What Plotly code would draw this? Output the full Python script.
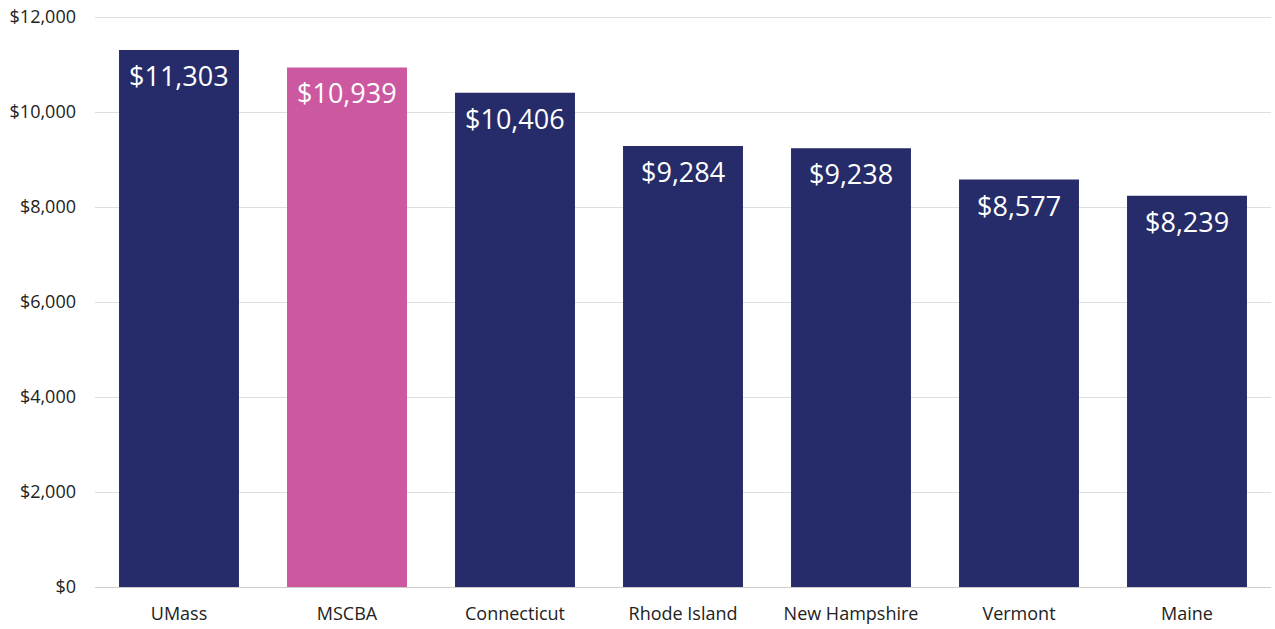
import plotly.graph_objects as go

categories = ["UMass", "MSCBA", "Connecticut", "Rhode Island", "New Hampshire", "Vermont", "Maine"]
values = [11303, 10939, 10406, 9284, 9238, 8577, 8239]
colors = ["#252C69", "#CC589F", "#252C69", "#252C69", "#252C69", "#252C69", "#252C69"]
tick_vals = [0, 2000, 4000, 6000, 8000, 10000, 12000]
tick_text = ["$0", "$2,000", "$4,000", "$6,000", "$8,000", "$10,000", "$12,000"]
labels = [f"${v:,}" for v in values]

fig = go.Figure(go.Bar(
    x=categories, y=values, marker=dict(color=colors, line=dict(width=0)),
    width=0.714, hoverinfo="skip",
))

for c, v, t in zip(categories, values, labels):
    fig.add_annotation(x=c, y=v, text=t, showarrow=False, yanchor="top", yshift=-5,
                       font=dict(family="Open Sans", size=27, color="white"))

fig.update_layout(
    width=1275, height=629,
    margin=dict(l=95, r=4, t=13, b=41),
    plot_bgcolor="white", paper_bgcolor="white",
    font=dict(family="Open Sans", size=18, color="#222222"),
    showlegend=False,
    bargap=0.286,
)
fig.update_xaxes(showgrid=False, showline=False, ticks="", ticklabelstandoff=14,
                 tickfont=dict(size=18, color="#222222"))
fig.update_yaxes(range=[0, 12042], tickvals=tick_vals, ticktext=tick_text,
                 showgrid=True, gridcolor="#DDDDDD", gridwidth=1, zeroline=True,
                 zerolinecolor="#CCCCCC", zerolinewidth=1, ticks="", ticklabelstandoff=18,
                 tickfont=dict(size=18, color="#222222"))

fig.write_html("out.html", config={"displayModeBar": False},
               post_script="document.body.style.margin='0';document.body.style.overflow='hidden';")
